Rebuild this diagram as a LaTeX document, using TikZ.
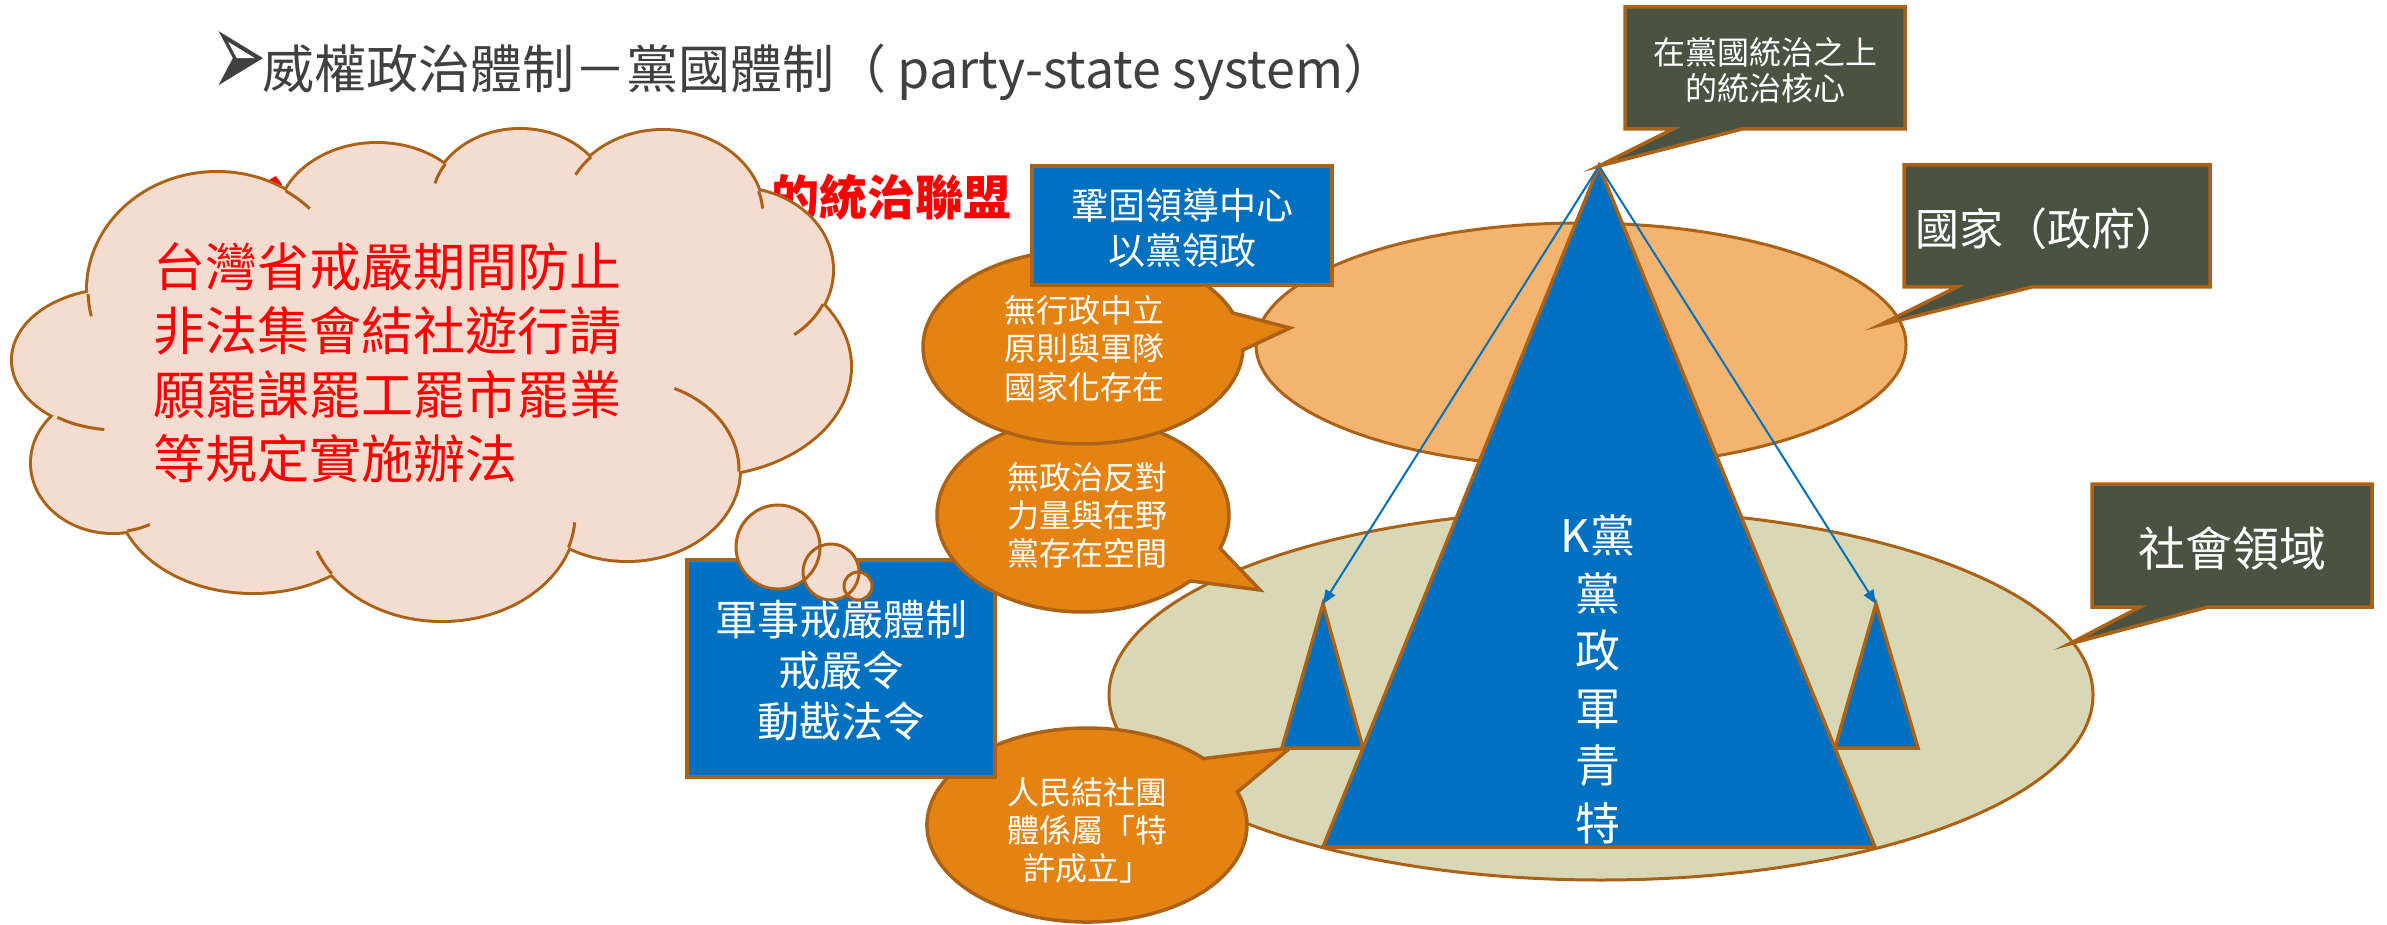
\documentclass[tikz,border=0pt]{standalone}
\usepackage{fontspec}
\setmainfont{Noto Sans CJK TC}
\newfontfamily\symfont{DejaVu Sans}
\usetikzlibrary{arrows.meta}
\definecolor{brdc}{RGB}{172,98,22}
\definecolor{pblue}{RGB}{0,112,192}
\definecolor{borange}{RGB}{228,131,18}
\definecolor{lorange}{RGB}{242,180,110}
\definecolor{khakic}{RGB}{217,216,180}
\definecolor{darkc}{RGB}{74,82,66}
\definecolor{peach}{RGB}{245,220,208}
\definecolor{ttlgray}{RGB}{64,64,64}
\newcommand\myfs[2]{\fontsize{#1pt}{#2pt}\selectfont}
\begin{document}
\begin{tikzpicture}[x=1pt,y=-1pt,
  edge/.style={draw=brdc, line width=3.5pt},
  calloutbox/.style={edge, fill=darkc},
  bluebox/.style={edge, fill=pblue},
  bubblest/.style={edge, fill=borange},
  tri/.style={draw=brdc, line width=3.5pt, fill=pblue},
  wtxt/.style={inner sep=0pt, align=center, text=white},
  cloudline/.style={draw=brdc, line width=3pt},
  ptr/.style={draw=pblue, line width=2pt, -{Triangle[length=14pt,width=11pt]}}
]
\fill[white] (0,0) rectangle (2387,925);
\useasboundingbox (0,0) rectangle (2387,925);

% hidden red line behind the cloud
\node[inner sep=0pt, text=red, font=\myfs{48}{56}\bfseries] (redfrag) at (276,197) {亠};
\node[inner sep=0pt, anchor=east, text=red, font=\myfs{48}{56}\bfseries] (redtxt) at (1012,197) {的統治聯盟};

% title
\node[inner sep=0pt, text=ttlgray, font=\symfont\myfs{40}{44}] (bullet) at (239,64) {\scalebox{1.65}[3.1]{➢}};
\node[inner sep=0pt, anchor=west, text=ttlgray, font=\myfs{52}{60}] (title) at (262,72)
  {威權政治體制－黨國體制（ party-state system）};

% cloud
\def\bumps{117/360/104/70, 217/290/129/117, 377/224/100/80, 520/202/88/72, 663/216/100/85, 737/270/95/81, 700/367/150/108, 627/470/112/90, 442/515/133/105, 253/495/135/97, 113/463/81/69}
\foreach \cx/\cy/\rx/\ry in \bumps {
  \draw[draw=brdc, line width=6pt] (\cx,\cy) ellipse[x radius=\rx, y radius=\ry];
}
\foreach \cx/\cy/\rx/\ry in \bumps {
  \fill[peach] (\cx,\cy) ellipse[x radius=\rx, y radius=\ry];
}
\fill[peach] (430,370) ellipse[x radius=330, y radius=190];
\foreach \cx/\cy/\rx/\ry/\a/\b in {217/290/129/117/178/167, 117/360/104/70/125/97, 113/463/81/69/80/63, 442/515/133/105/146/160, 217/290/129/117/-58/-44, 520/202/88/72/-148/-165, 663/216/100/85/-136/-151, 663/216/100/85/-17/-5, 737/270/95/81/25/53, 627/470/112/90/1/-65, 442/515/133/105/18/4} {
  \pgfmathsetmacro\sx{\cx+\rx*cos(\a)}
  \pgfmathsetmacro\sy{\cy+\ry*sin(\a)}
  \draw[cloudline] (\sx,\sy) arc[start angle=\a, end angle=\b, x radius=\rx, y radius=\ry];
}
\node[inner sep=0pt, anchor=west, align=left, text=red, font=\myfs{52}{64}] (cloudtxt) at (153,362.5)
  {台灣省戒嚴期間防止\\非法集會結社遊行請\\願罷課罷工罷市罷業\\等規定實施辦法};

% state and society ellipses
\draw[edge, line width=3pt, fill=lorange] (1581,345) ellipse[x radius=325, y radius=122];
\draw[edge, line width=3pt, fill=khakic] (1601,695) ellipse[x radius=492, y radius=185];

% bubble 3 and box 2
\coordinate (b3tip) at (1290,748);
\draw[bubblest] (1237.4,792.0) arc[start angle=-19.9, end angle=316.8, x radius=160, y radius=97] -- (b3tip) -- cycle;
\node[wtxt, font=\myfs{32}{38}] (b3txt) at (1087,830) {人民結社團\\體係屬「特\\許成立」};

\draw[bluebox] (687,560) rectangle (995,777);
\node[wtxt, font=\myfs{42}{51}] (box2txt) at (841,671) {軍事戒嚴體制\\戒嚴令\\動戡法令};

% thought circles
\fill[peach] (778,547) circle[radius=42];
\fill[peach] (831,572) circle[radius=28];
\fill[peach] (858,586) circle[radius=14];
\draw[cloudline] (778,547) circle[radius=42];
\draw[cloudline] (831,572) circle[radius=28];
\draw[cloudline] (858,586) circle[radius=14];

% bubble 2
\coordinate (b2tip) at (1260,590);
\draw[bubblest] (1190.1,580.9) arc[start angle=42.8, end angle=380.1, x radius=146, y radius=97] -- (b2tip) -- cycle;
\node[wtxt, font=\myfs{32}{38}] (b2txt) at (1087,515) {無政治反對\\力量與在野\\黨存在空間};

% bubble 1
\coordinate (b1tip) at (1290,328);
\draw[bubblest] (1242.9,350.0) arc[start angle=1.8, end angle=339.5, x radius=160, y radius=97] -- (b1tip) -- cycle;
\node[wtxt, font=\myfs{32}{38.5}] (b1txt) at (1084,348.5) {無行政中立\\原則與軍隊\\國家化存在};

% box 1
\draw[bluebox] (1032,166) rectangle (1332,285);
\node[wtxt, font=\myfs{37}{45}] (box1txt) at (1182,227.5) {鞏固領導中心\\以黨領政};

% triangles
\coordinate (apex) at (1599,166);
\coordinate (lapex) at (1323,604);
\coordinate (rapex) at (1876,604);
\draw[tri] (lapex) -- (1363,748) -- (1282,748) -- cycle;
\draw[tri] (rapex) -- (1918,748) -- (1835,748) -- cycle;
\draw[tri] (apex) -- (1875,847) -- (1323,847) -- cycle;
\node[wtxt, font=\myfs{45}{57.5}] (ktxt) at (1598,679.5) {K黨\\黨\\政\\軍\\青\\特};

\draw[ptr] (apex) -- (lapex);
\draw[ptr] (apex) -- (rapex);

% callouts
\draw[calloutbox] (1625,7) -- (1905,7) -- (1905,129) -- (1742,129) -- (apex) -- (1673,129) -- (1625,129) -- cycle;
\node[wtxt, font=\myfs{32}{36}] (c1txt) at (1765,70) {在黨國統治之上\\的統治核心};

\coordinate (c2tip) at (1880,325);
\draw[calloutbox] (1904,165) -- (2210,165) -- (2210,287) -- (2032,287) -- (c2tip) -- (1957,287) -- (1904,287) -- cycle;
\node[wtxt, font=\myfs{44}{52}] (c2txt) at (2047,229) {國家（政府）};

\coordinate (c3tip) at (2069,644);
\draw[calloutbox] (2092,484) -- (2372,484) -- (2372,607) -- (2208,607) -- (c3tip) -- (2140,607) -- (2092,607) -- cycle;
\node[wtxt, font=\myfs{47}{55}] (c3txt) at (2232,548) {社會領域};
\end{tikzpicture}
\end{document}
